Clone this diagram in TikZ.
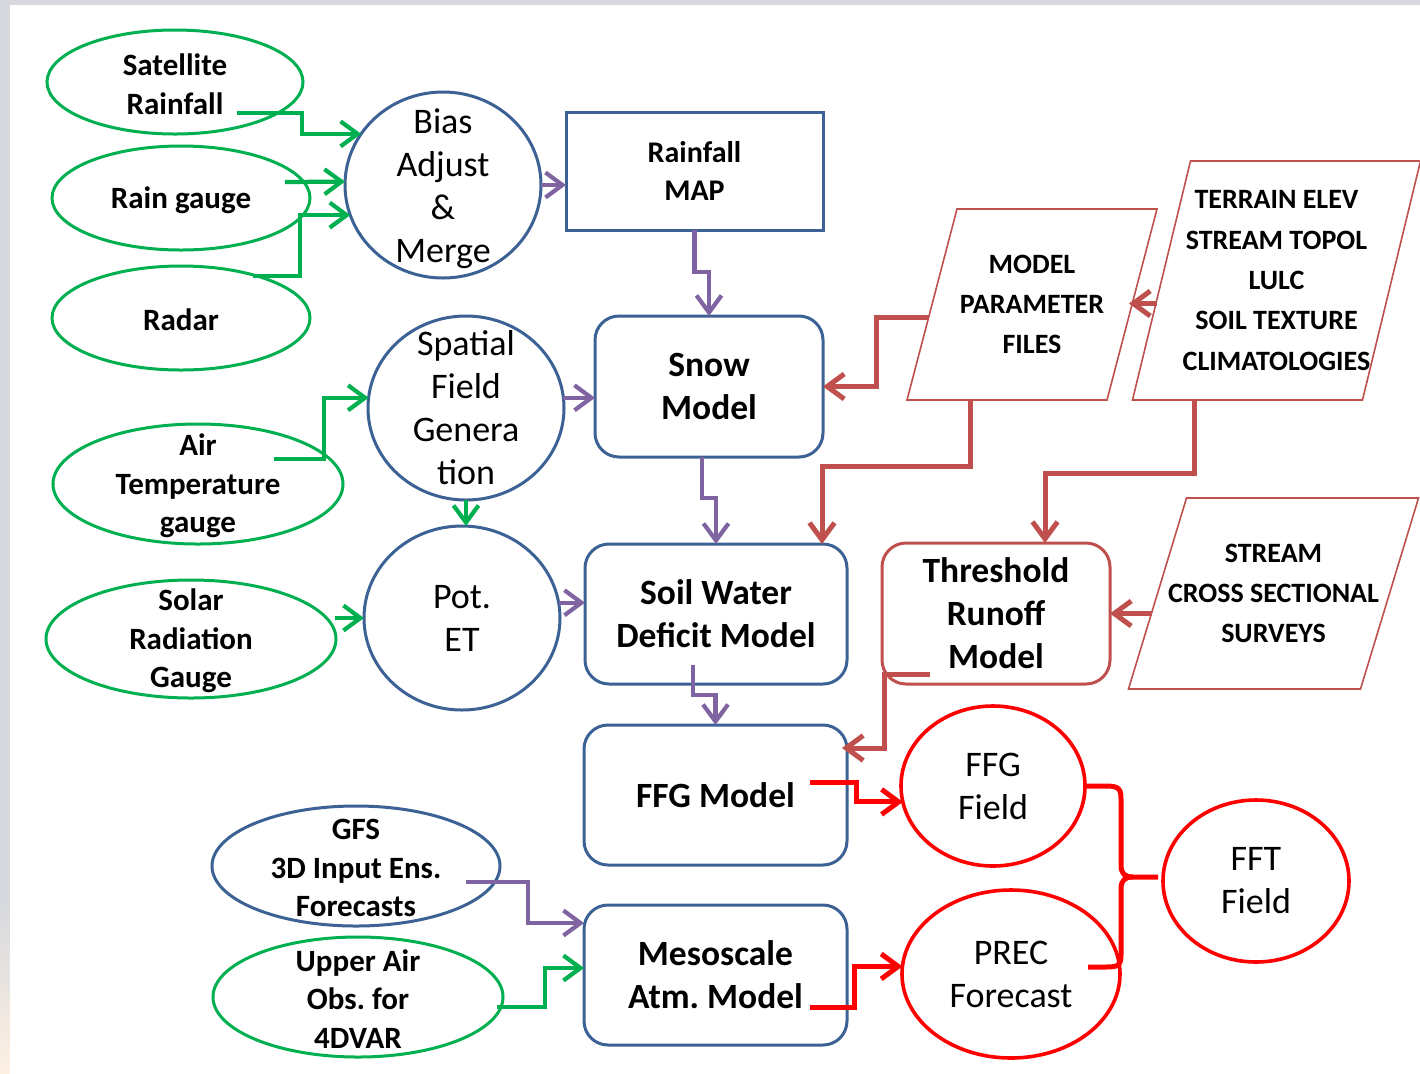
\documentclass[tikz,border=0pt]{standalone}
\usepackage{fontspec}
\setmainfont{Carlito}
\usetikzlibrary{shapes.geometric,arrows.meta,calc}

\definecolor{cgreen}{HTML}{00B050}
\definecolor{cblue}{HTML}{3C6194}
\definecolor{cpurple}{HTML}{8064A2}
\definecolor{cbrown}{HTML}{C0504D}
\definecolor{cred}{HTML}{FF0000}
\definecolor{cframe}{HTML}{D6D8DD}
\definecolor{cwarm}{HTML}{FDF0E3}

\begin{document}
\frenchspacing
\begin{tikzpicture}[x=0.5pt,y=-0.5pt,
  ell/.style 2 args={ellipse, minimum width=#1, minimum height=#2, inner sep=0pt, outer sep=0pt},
  gell/.style={draw=cgreen, line width=1.5pt},
  bell/.style={draw=cblue, line width=1.5pt},
  rell/.style={draw=cred, line width=1.8pt},
  box/.style 2 args={rectangle, minimum width=#1, minimum height=#2, inner sep=0pt, outer sep=0pt, align=center,
    font=\fontsize{17.75pt}{21.5pt}\selectfont\bfseries},
  rbox/.style={rounded corners=12pt},
  tsm/.style={align=center, yshift=-1pt, font=\fontsize{15.5pt}{19.25pt}\selectfont\bfseries},
  tci/.style={align=center, font=\fontsize{18pt}{21.5pt}\selectfont},
  tpa/.style={align=center, font=\fontsize{14pt}{20.15pt}\selectfont\bfseries},
  para/.style={draw=cbrown, line width=0.8pt},
  conn/.style={line width=2.1pt, -{Straight Barb[length=8.5pt,width=12.5pt]}},
  gconn/.style={conn, draw=cgreen},
  pconn/.style={conn, draw=cpurple},
  bconn/.style={conn, draw=cbrown, line width=2.5pt},
  rconn/.style={conn, draw=cred, line width=2.5pt},
  rline/.style={draw=cred, line width=2.5pt, line join=round},
]
% page and frame strips
\useasboundingbox (0,0) rectangle (1420,1073);
\fill[white] (0,0) rectangle (1420,1073);
\fill[cframe] (0,0) rectangle (1420,4.5);
\fill[cframe] (0,0) rectangle (9.5,900);
\shade[top color=cframe, bottom color=cwarm] (0,900) rectangle (9.5,1073);

% observation inputs
\node[ell={128pt}{52pt}, gell, label={[tsm]center:{Satellite\\Rainfall}}] (sat) at (175,82) {};
\node[ell={129pt}{52pt}, gell, label={[tsm]center:{Rain gauge}}] (raing) at (181,198) {};
\node[ell={129pt}{52pt}, gell, label={[tsm]center:{Radar}}] (radar) at (181,318) {};
\node[ell={145pt}{60pt}, gell, label={[tsm]center:{Air\\Temperature\\gauge}}] (air) at (198,484) {};
\node[ell={145pt}{59pt}, gell, label={[tsm]center:{Solar\\Radiation\\Gauge}}] (solar) at (191,639) {};
\node[ell={144pt}{60pt}, bell, label={[tsm]center:{GFS\\3D Input Ens.\\Forecasts}}] (gfs) at (356,866) {};
\node[ell={145pt}{60pt}, gell, label={[tsm]center:{Upper Air\\Obs. for\\4DVAR}}] (upper) at (358,997) {};

% processing circles
\node[ell={98pt}{93pt}, bell, label={[tci, yshift=-2pt]center:{Bias\\Adjust\\\&\\Merge}}] (bias) at (443,185) {};
\node[ell={98pt}{92pt}, bell, label={[tci]center:{Spatial\\Field\\Genera\\tion}}] (spat) at (466,408) {};
\node[ell={98pt}{92pt}, bell, label={[tci]center:{Pot.\\ET}}] (pot) at (462,618) {};

% model boxes
\node[box={128.5pt}{59pt}, draw=cblue, line width=1.5pt, font=\fontsize{15pt}{19pt}\selectfont\bfseries] (map) at (694.5,171) {Rainfall\\MAP};
\node[box={114pt}{70.5pt}, rbox, draw=cblue, line width=1.5pt] (snow) at (709,386.5) {Snow\\Model};
\node[box={131pt}{70pt}, rbox, draw=cblue, line width=1.5pt] (soil) at (716,614) {Soil Water\\Deficit Model};
\node[box={131.5pt}{70pt}, rbox, draw=cblue, line width=1.5pt] (ffgm) at (715.5,795) {FFG Model};
\node[box={131.5pt}{70pt}, rbox, draw=cblue, line width=1.5pt] (meso) at (715.5,975) {Mesoscale\\Atm. Model};
\node[box={114pt}{70.5pt}, rbox, draw=cbrown, line width=1.5pt] (thr) at (996,613.5) {Threshold\\Runoff\\Model};

% data files
\node[tpa] (mpf) at (1032,304.5) {MODEL\\PARAMETER\\FILES};
\draw[para] ($(mpf)+(-75,-95.5)$) -- ($(mpf)+(125,-95.5)$) -- ($(mpf)+(75,95.5)$) -- ($(mpf)+(-125,95.5)$) -- cycle;
\node[tpa] (terr) at (1276.5,280.5) {TERRAIN ELEV\\STREAM TOPOL\\LULC\\SOIL TEXTURE\\CLIMATOLOGIES};
\draw[para] ($(terr)+(-86,-119.5)$) -- ($(terr)+(144,-119.5)$) -- ($(terr)+(86,119.5)$) -- ($(terr)+(-144,119.5)$) -- cycle;
\node[tpa] (stream) at (1273.5,593.5) {STREAM\\CROSS SECTIONAL\\SURVEYS};
\draw[para] ($(stream)+(-87,-95.5)$) -- ($(stream)+(145,-95.5)$) -- ($(stream)+(87,95.5)$) -- ($(stream)+(-145,95.5)$) -- cycle;
\coordinate (mpfR) at ($(mpf)+(97,-1)$);

% outputs
\node[ell={92pt}{80pt}, rell, label={[tci]center:{FFG\\Field}}] (ffgf) at (993,786) {};
\node[ell={109pt}{84pt}, rell, label={[tci]center:{PREC\\Forecast}}] (prec) at (1011,974) {};
\node[ell={93pt}{81pt}, rell, label={[tci]center:{FFT\\Field}}] (fft) at (1256,881) {};

% green input links
\draw[gconn] ($(sat.center)+(62,31)$) -- ++(65,0) |- (bias.148);
\draw[gconn] ($(raing.center)+(104,-16)$) -- (bias.178);
\draw[gconn] ($(radar.center)+(72,-42)$) -- ++(47,0) |- (bias.198);
\draw[gconn] ($(air.center)+(76,-25)$) -- ++(50,0) |- (spat.174);
\draw[gconn] ($(solar.center)+(144,-21)$) -- (pot.west);
\draw[gconn] (spat.south) -- (spat.south |- pot.north);
\draw[gconn] ($(upper.center)+(139,10)$) -- ++(48,0) |- ($(meso.west)+(0,-7)$);

% purple process links
\draw[pconn] (bias.east) -- (bias.east -| map.west);
\draw[pconn] (map.south) -- ++(0,42) -| (snow.north);
\draw[pconn] (spat.6) -- (spat.6 -| snow.west);
\draw[pconn] ($(snow.south)+(-7,0)$) -- ++(0,41) -| (soil.north);
\draw[pconn] (pot.9) -- (pot.9 -| soil.west);
\draw[pconn] ($(soil.center)+(-23,51)$) -- ++(0,30) -| (ffgm.north);
\draw[pconn] ($(gfs.center)+(110,16)$) -- ++(62,0) |- ($(meso.west)+(0,-52)$);

% parameter links
\draw[bconn] ($(mpf)+(-103,13)$) -- ++(-53,0) |- (snow.east);
\draw[bconn] ($(terr)+(-120,23)$) -- (mpfR);
\draw[bconn] ($(mpf)+(-62,95.5)$) -- ++(0,66) -| ($(soil.north east)+(-25,0)$);
\draw[bconn] ($(terr)+(-82.5,119.5)$) -- ++(0,73) -| ($(thr.north)+(49,0)$);
\draw[bconn] ($(stream)+(-122,20)$) -- (thr.east);
\draw[bconn] ($(thr.center)+(-66,60.5)$) -- ++(-46,0) |- ($(ffgm.north east)+(-5,23)$);

% output links
\draw[rconn] ($(ffgm.center)+(94.5,-13)$) -- ++(46,0) |- (ffgf.190);
\draw[rconn] ($(meso.center)+(94.5,32)$) -- ++(44,0) |- (prec.176);
\coordinate (brc) at ($(fft.west)+(-42,-4)$);
\draw[rline] (ffgf.east) -- ($(brc)+(-15,-91)$) .. controls ($(brc)+(-2,-91)$) and ($(brc)+(0,-88)$) .. ($(brc)+(0,-78)$)
  -- ($(brc)+(0,-12)$) .. controls ($(brc)+(0,-3)$) and ($(brc)+(4,0)$) .. ($(brc)+(12,0)$) -- ($(fft.west)+(-5,-4)$);
\draw[rline] ($(brc)+(12,0)$) .. controls ($(brc)+(4,0)$) and ($(brc)+(0,3)$) .. ($(brc)+(0,12)$)
  -- ($(brc)+(0,78)$) .. controls ($(brc)+(0,88)$) and ($(brc)+(-2,90)$) .. ($(brc)+(-15,90)$) -- ($(prec.center)+(77,-7)$);
\end{tikzpicture}
\end{document}
